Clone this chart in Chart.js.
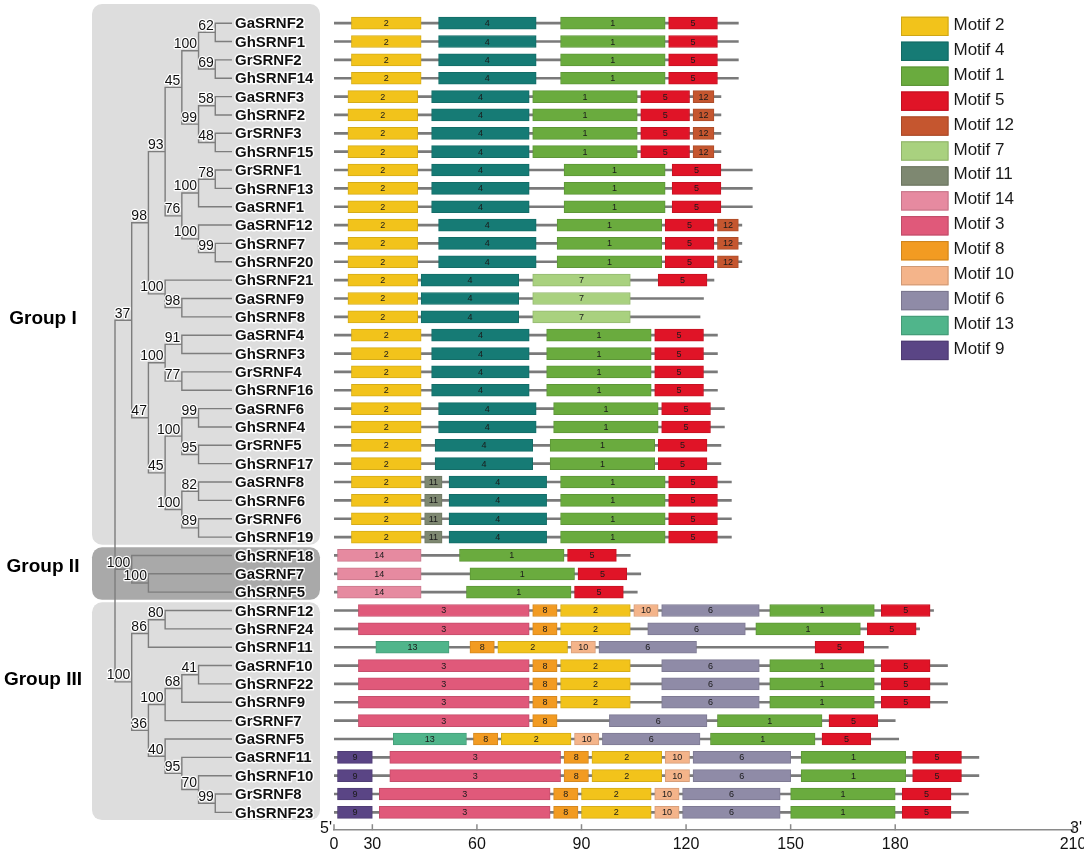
<!DOCTYPE html>
<html lang="en">

<head>
  <meta charset="UTF-8" />
  <title>SRNF tree and motifs</title>
  <script src="https://cdn.jsdelivr.net/npm/chart.js"></script>
  <style>
    html, body { margin: 0; background: #fff; }
    #wrap { position: relative; width: 1084px; height: 859px; }
  </style>
</head>

<body>
  <div id="wrap"><canvas id="motifChart"></canvas></div>

  <script>
    // rows, top to bottom
    const genes = ['GaSRNF2', 'GhSRNF1', 'GrSRNF2', 'GhSRNF14', 'GaSRNF3', 'GhSRNF2', 'GrSRNF3', 'GhSRNF15',
      'GrSRNF1', 'GhSRNF13', 'GaSRNF1', 'GaSRNF12', 'GhSRNF7', 'GhSRNF20', 'GhSRNF21', 'GaSRNF9', 'GhSRNF8',
      'GaSRNF4', 'GhSRNF3', 'GrSRNF4', 'GhSRNF16', 'GaSRNF6', 'GhSRNF4', 'GrSRNF5', 'GhSRNF17', 'GaSRNF8',
      'GhSRNF6', 'GrSRNF6', 'GhSRNF19', 'GhSRNF18', 'GaSRNF7', 'GhSRNF5', 'GhSRNF12', 'GhSRNF24', 'GhSRNF11',
      'GaSRNF10', 'GhSRNF22', 'GhSRNF9', 'GrSRNF7', 'GaSRNF5', 'GaSRNF11', 'GhSRNF10', 'GrSRNF8', 'GhSRNF23'];

    const geneStart = 19;
    const geneEnd = [135, 135, 135, 135, 130, 130, 130, 130, 139, 139, 139, 136, 136, 136, 128, 125, 124,
      129, 129, 129, 129, 131, 131, 130, 130, 133, 133, 133, 133, 104, 107, 106, 191, 187, 178,
      195, 195, 195, 180, 181, 204, 204, 201, 201];

    // [motif, start, end] for each row
    const sites = [
      [[2, 24, 44], [4, 49, 77], [1, 84, 114], [5, 115, 129]],
      [[2, 24, 44], [4, 49, 77], [1, 84, 114], [5, 115, 129]],
      [[2, 24, 44], [4, 49, 77], [1, 84, 114], [5, 115, 129]],
      [[2, 24, 44], [4, 49, 77], [1, 84, 114], [5, 115, 129]],
      [[2, 23, 43], [4, 47, 75], [1, 76, 106], [5, 107, 121], [12, 122, 128]],
      [[2, 23, 43], [4, 47, 75], [1, 76, 106], [5, 107, 121], [12, 122, 128]],
      [[2, 23, 43], [4, 47, 75], [1, 76, 106], [5, 107, 121], [12, 122, 128]],
      [[2, 23, 43], [4, 47, 75], [1, 76, 106], [5, 107, 121], [12, 122, 128]],
      [[2, 23, 43], [4, 47, 75], [1, 85, 114], [5, 116, 130]],
      [[2, 23, 43], [4, 47, 75], [1, 85, 114], [5, 116, 130]],
      [[2, 23, 43], [4, 47, 75], [1, 85, 114], [5, 116, 130]],
      [[2, 23, 43], [4, 49, 77], [1, 83, 113], [5, 114, 128], [12, 129, 135]],
      [[2, 23, 43], [4, 49, 77], [1, 83, 113], [5, 114, 128], [12, 129, 135]],
      [[2, 23, 43], [4, 49, 77], [1, 83, 113], [5, 114, 128], [12, 129, 135]],
      [[2, 23, 43], [4, 44, 72], [7, 76, 104], [5, 112, 126]],
      [[2, 23, 43], [4, 44, 72], [7, 76, 104]],
      [[2, 23, 43], [4, 44, 72], [7, 76, 104]],
      [[2, 24, 44], [4, 47, 75], [1, 80, 110], [5, 111, 125]],
      [[2, 24, 44], [4, 47, 75], [1, 80, 110], [5, 111, 125]],
      [[2, 24, 44], [4, 47, 75], [1, 80, 110], [5, 111, 125]],
      [[2, 24, 44], [4, 47, 75], [1, 80, 110], [5, 111, 125]],
      [[2, 24, 44], [4, 49, 77], [1, 82, 112], [5, 113, 127]],
      [[2, 24, 44], [4, 49, 77], [1, 82, 112], [5, 113, 127]],
      [[2, 24, 44], [4, 48, 76], [1, 81, 111], [5, 112, 126]],
      [[2, 24, 44], [4, 48, 76], [1, 81, 111], [5, 112, 126]],
      [[2, 24, 44], [11, 45, 50], [4, 52, 80], [1, 84, 114], [5, 115, 129]],
      [[2, 24, 44], [11, 45, 50], [4, 52, 80], [1, 84, 114], [5, 115, 129]],
      [[2, 24, 44], [11, 45, 50], [4, 52, 80], [1, 84, 114], [5, 115, 129]],
      [[2, 24, 44], [11, 45, 50], [4, 52, 80], [1, 84, 114], [5, 115, 129]],
      [[14, 20, 44], [1, 55, 85], [5, 86, 100]],
      [[14, 20, 44], [1, 58, 88], [5, 89, 103]],
      [[14, 20, 44], [1, 57, 87], [5, 88, 102]],
      [[3, 26, 75], [8, 76, 83], [2, 84, 104], [10, 105, 112], [6, 113, 141], [1, 144, 174], [5, 176, 190]],
      [[3, 26, 75], [8, 76, 83], [2, 84, 104], [6, 109, 137], [1, 140, 170], [5, 172, 186]],
      [[13, 31, 52], [8, 58, 65], [2, 66, 86], [10, 87, 94], [6, 95, 123], [5, 157, 171]],
      [[3, 26, 75], [8, 76, 83], [2, 84, 104], [6, 113, 141], [1, 144, 174], [5, 176, 190]],
      [[3, 26, 75], [8, 76, 83], [2, 84, 104], [6, 113, 141], [1, 144, 174], [5, 176, 190]],
      [[3, 26, 75], [8, 76, 83], [2, 84, 104], [6, 113, 141], [1, 144, 174], [5, 176, 190]],
      [[3, 26, 75], [8, 76, 83], [6, 98, 126], [1, 129, 159], [5, 161, 175]],
      [[13, 36, 57], [8, 59, 66], [2, 67, 87], [10, 88, 95], [6, 96, 124], [1, 127, 157], [5, 159, 173]],
      [[9, 20, 30], [3, 35, 84], [8, 85, 92], [2, 93, 113], [10, 114, 121], [6, 122, 150], [1, 153, 183], [5, 185, 199]],
      [[9, 20, 30], [3, 35, 84], [8, 85, 92], [2, 93, 113], [10, 114, 121], [6, 122, 150], [1, 153, 183], [5, 185, 199]],
      [[9, 20, 30], [3, 32, 81], [8, 82, 89], [2, 90, 110], [10, 111, 118], [6, 119, 147], [1, 150, 180], [5, 182, 196]],
      [[9, 20, 30], [3, 32, 81], [8, 82, 89], [2, 90, 110], [10, 111, 118], [6, 119, 147], [1, 150, 180], [5, 182, 196]]
    ];

    // tree with bootstrap values
    const treeNewick =
      '(((((((GaSRNF2,GhSRNF1)62,(GrSRNF2,GhSRNF14)69)100,((GaSRNF3,GhSRNF2)58,(GrSRNF3,GhSRNF15)48)99)45,' +
      '(((GrSRNF1,GhSRNF13)78,GaSRNF1)100,(GaSRNF12,(GhSRNF7,GhSRNF20)99)100)76)93,' +
      '(GhSRNF21,(GaSRNF9,GhSRNF8)98)100)98,' +
      '(((GaSRNF4,GhSRNF3)91,(GrSRNF4,GhSRNF16)77)100,' +
      '(((GaSRNF6,GhSRNF4)99,(GrSRNF5,GhSRNF17)95)100,((GaSRNF8,GhSRNF6)82,(GrSRNF6,GhSRNF19)89)100)45)47)37,' +
      '(GhSRNF18,(GaSRNF7,GhSRNF5)100)100,' +
      '(((GhSRNF12,GhSRNF24)80,GhSRNF11)86,' +
      '((((GaSRNF10,GhSRNF22)41,GhSRNF9)68,GrSRNF7)100,' +
      '(GaSRNF5,(GaSRNF11,(GhSRNF10,(GrSRNF8,GhSRNF23)99)70)95)40)36)100);';

    const groupNames = ['Group I', 'Group II', 'Group III'];
    const groupRows = [[0, 28], [29, 31], [32, 43]];

    const legendOrder = [2, 4, 1, 5, 12, 7, 11, 14, 3, 8, 10, 6, 13, 9];
    const motifColors = {
      1: '#6aab3e', 2: '#f2c31b', 3: '#e0597a', 4: '#167b75', 5: '#e01427', 6: '#8f8ba7', 7: '#a9d17f',
      8: '#f29b22', 9: '#5a4585', 10: '#f4b48a', 11: '#7e8871', 12: '#c5562f', 13: '#50b58b', 14: '#e68aa0'
    };

    const axisTicks = [30, 60, 90, 120, 150, 180];
    const axisEnds = ['0', '210'];

    const FONT = "'Liberation Sans', Arial, sans-serif";
    Chart.defaults.font.family = FONT;

    // --- tree layout ---
    function parseNewick(s) {
      let i = 0;
      function node() {
        const n = { children: [], name: '', label: '' };
        if (s[i] === '(') {
          i++;
          n.children.push(node());
          while (s[i] === ',') { i++; n.children.push(node()); }
          i++;
        }
        let t = '';
        while (i < s.length && !',();'.includes(s[i])) t += s[i++];
        if (n.children.length) n.label = t; else n.name = t;
        return n;
      }
      return node();
    }

    const tree = parseNewick(treeNewick);
    let tipLevel = 0;
    (function depth(n, d) {
      if (!n.children.length) tipLevel = Math.max(tipLevel, d);
      n.children.forEach(c => depth(c, d + 1));
    })(tree, 0);

    const internals = [];
    (function place(n, d) {
      if (!n.children.length) { n.x = tipLevel; n.y = genes.indexOf(n.name); return; }
      n.children.forEach(c => place(c, d + 1));
      n.x = d;
      n.y = (n.children[0].y + n.children[n.children.length - 1].y) / 2;
      internals.push(n);
    })(tree, 0);

    const treePts = [];
    internals.forEach(n => {
      const a = n.children[0], b = n.children[n.children.length - 1];
      treePts.push({ x: a.x, y: a.y }, { x: n.x, y: a.y }, { x: n.x, y: b.y }, { x: b.x, y: b.y }, { x: null, y: null });
      n.children.slice(1, -1).forEach(c => {
        treePts.push({ x: n.x, y: c.y }, { x: c.x, y: c.y }, { x: null, y: null });
      });
    });

    function shade(hex, f) {
      const n = parseInt(hex.slice(1), 16);
      const r = Math.round(((n >> 16) & 255) * f), g = Math.round(((n >> 8) & 255) * f), b = Math.round((n & 255) * f);
      return `rgb(${r},${g},${b})`;
    }

    // --- datasets ---
    const motifSets = legendOrder.map(m => ({
      type: 'bar',
      motif: m,
      label: 'Motif ' + m,
      data: sites.flatMap((row, i) => row.filter(s => s[0] === m).map(s => ({ x: [s[1], s[2]], y: i }))),
      backgroundColor: motifColors[m],
      borderColor: shade(motifColors[m], 0.88),
      borderWidth: 1,
      borderSkipped: false,
      barThickness: 12,
      grouped: false,
      order: 1
    }));

    const backbone = {
      type: 'bar',
      label: 'protein',
      data: geneEnd.map((e, i) => ({ x: [geneStart, e], y: i })),
      backgroundColor: '#7a7a7a',
      borderWidth: 0,
      barThickness: 2,
      grouped: false,
      order: 5
    };

    const treeLines = {
      type: 'line',
      label: 'tree',
      indexAxis: 'y',
      xAxisID: 'xt',
      yAxisID: 'y',
      data: treePts,
      borderColor: '#7d7d7d',
      borderWidth: 1.4,
      pointRadius: 0,
      spanGaps: false,
      fill: false,
      tension: 0,
      clip: false,
      order: 4
    };

    // --- layout numbers ---
    const padL = 334, padR = 11, chartW = 1084;
    const plotW = chartW - padL - padR;
    const rootPx = 115, levelPx = 16.71;

    function haloText(ctx, txt, x, y, w) {
      ctx.lineWidth = w;
      ctx.strokeStyle = 'rgba(255,255,255,0.95)';
      ctx.strokeText(txt, x, y);
      ctx.fillText(txt, x, y);
    }

    function roundRect(ctx, x, y, w, h, r) {
      ctx.beginPath();
      ctx.moveTo(x + r, y);
      ctx.lineTo(x + w - r, y);
      ctx.arcTo(x + w, y, x + w, y + r, r);
      ctx.lineTo(x + w, y + h - r);
      ctx.arcTo(x + w, y + h, x + w - r, y + h, r);
      ctx.lineTo(x + r, y + h);
      ctx.arcTo(x, y + h, x, y + h - r, r);
      ctx.lineTo(x, y + r);
      ctx.arcTo(x, y, x + r, y, r);
      ctx.closePath();
    }

    const treePlugin = {
      id: 'treeDecor',
      beforeDatasetsDraw(chart) {
        const { ctx, scales: { y } } = chart;
        ctx.save();
        groupRows.forEach((g, k) => {
          let top = y.getPixelForValue(g[0] - 0.5) + 1;
          const bot = y.getPixelForValue(g[1] + 0.5) - 1.5;
          if (k === 0) top -= 11;
          roundRect(ctx, 92, top, 228, bot - top, 10);
          ctx.fillStyle = k === 1 ? '#a9a9a9' : '#dddddd';
          ctx.fill();
        });
        ctx.restore();
      },
      afterDatasetsDraw(chart) {
        const { ctx, scales: { y, xt } } = chart;
        ctx.save();
        ctx.lineJoin = 'round';
        // gene names
        ctx.font = `bold 15px ${FONT}`;
        ctx.fillStyle = '#111';
        ctx.textAlign = 'left';
        ctx.textBaseline = 'middle';
        genes.forEach((g, i) => haloText(ctx, g, xt.getPixelForValue(tipLevel) + 3, y.getPixelForValue(i) + 1, 3));
        // bootstrap values
        ctx.font = `14px ${FONT}`;
        ctx.textAlign = 'right';
        ctx.textBaseline = 'alphabetic';
        internals.forEach(n => {
          if (n.label) haloText(ctx, n.label, xt.getPixelForValue(n.x) - 1.5, y.getPixelForValue(n.y) - 2.5, 2.5);
        });
        // group labels, level with each group's node
        ctx.font = `bold 19px ${FONT}`;
        ctx.fillStyle = '#000';
        ctx.textAlign = 'center';
        ctx.textBaseline = 'middle';
        tree.children.forEach((c, k) => ctx.fillText(groupNames[k], 43, y.getPixelForValue(c.y) - 2));
        // motif numbers
        ctx.font = `9px ${FONT}`;
        ctx.fillStyle = '#1a1a1a';
        chart.data.datasets.forEach((ds, di) => {
          if (!ds.motif) return;
          chart.getDatasetMeta(di).data.forEach(el => {
            ctx.fillText(String(ds.motif), (el.x + el.base) / 2, el.y + 0.5);
          });
        });
        ctx.restore();
      },
      afterDraw(chart) {
        const { ctx, chartArea, scales: { x } } = chart;
        ctx.save();
        // upward tick marks
        ctx.strokeStyle = '#8a8a8a';
        ctx.lineWidth = 1.5;
        x.ticks.forEach(t => {
          const px = x.getPixelForValue(t.value);
          ctx.beginPath();
          ctx.moveTo(px, chartArea.bottom);
          ctx.lineTo(px, chartArea.bottom - 6);
          ctx.stroke();
        });
        ctx.font = `16px ${FONT}`;
        ctx.fillStyle = '#111';
        ctx.textBaseline = 'alphabetic';
        ctx.textAlign = 'right';
        ctx.fillText("5'", chartArea.left - 2, chartArea.bottom + 3);
        ctx.textAlign = 'left';
        ctx.fillText("3'", chartArea.right - 3, chartArea.bottom + 3);
        // legend
        const lx = 901, ly = 16.7, step = 24.93;
        ctx.font = `17px ${FONT}`;
        ctx.textBaseline = 'middle';
        legendOrder.forEach((m, k) => {
          const yy = ly + k * step;
          ctx.fillStyle = motifColors[m];
          ctx.fillRect(lx, yy, 47.5, 19.3);
          ctx.strokeStyle = shade(motifColors[m], 0.85);
          ctx.lineWidth = 1;
          ctx.strokeRect(lx + 0.5, yy + 0.5, 46.5, 18.3);
          ctx.fillStyle = '#1a1a1a';
          ctx.fillText('Motif ' + m, lx + 52.5, yy + 8.5);
        });
        ctx.restore();
      }
    };

    new Chart(document.getElementById('motifChart'), {
      type: 'bar',
      data: { datasets: [...motifSets, backbone, treeLines] },
      options: {
        indexAxis: 'y',
        responsive: true,
        maintainAspectRatio: false,
        animation: false,
        layout: { padding: { left: padL, right: padR, top: 14, bottom: 0 } },
        plugins: { legend: { display: false }, tooltip: { enabled: false } },
        scales: {
          x: {
            type: 'linear',
            axis: 'x',
            position: 'bottom',
            min: 19,
            max: 231,
            afterBuildTicks: s => { s.ticks = [s.min, ...axisTicks, s.max].map(v => ({ value: v })); },
            afterFit: s => { s.paddingLeft = 0; s.paddingRight = 0; },
            ticks: {
              autoSkip: false,
              maxRotation: 0,
              padding: 4.8,
              color: '#111',
              font: { size: 16 },
              callback(v) {
                if (v === this.min) return axisEnds[0];
                if (v === this.max) return axisEnds[1];
                return String(v);
              }
            },
            grid: { display: true, drawOnChartArea: false, drawTicks: false },
            border: { display: true, color: '#8a8a8a', width: 1.5 }
          },
          xt: {
            type: 'linear',
            axis: 'x',
            position: 'bottom',
            display: false,
            min: (padL - rootPx) / levelPx,
            max: (padL - rootPx) / levelPx + plotW / levelPx
          },
          y: {
            type: 'linear',
            axis: 'y',
            reverse: true,
            display: false,
            offset: false,
            min: -0.5,
            max: 43.97
          }
        }
      },
      plugins: [treePlugin]
    });
  </script>
</body>

</html>
